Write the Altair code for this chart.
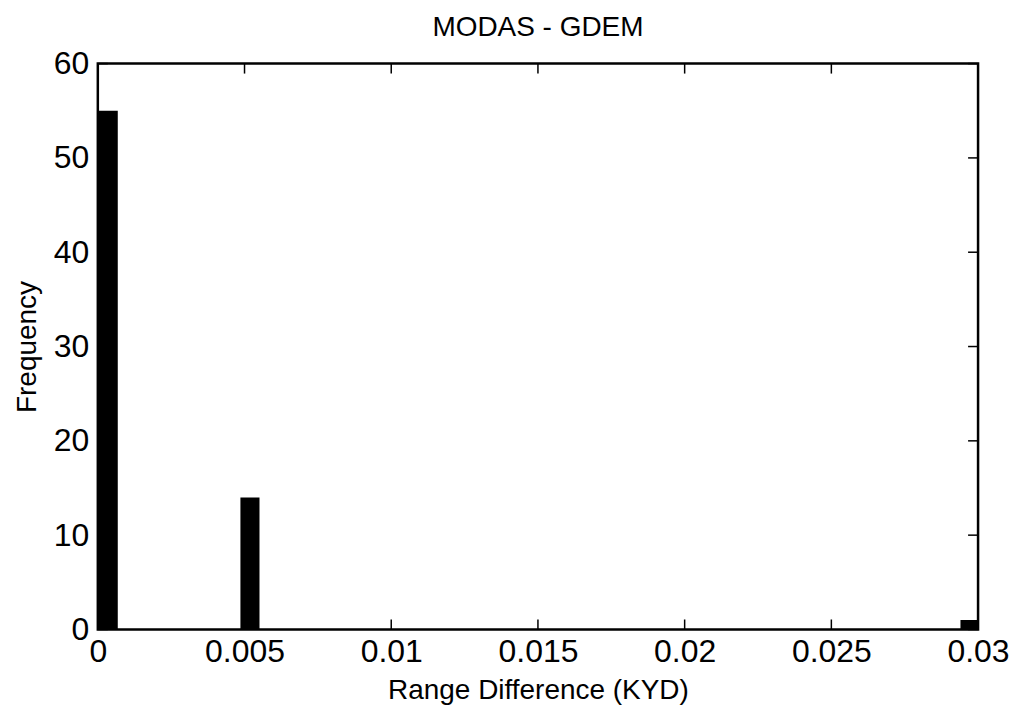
import altair as alt
import pandas as pd

# Histogram bars (bin edges) and counts
bar_start = [0.0, 0.00486, 0.0294]
bar_end = [0.00068, 0.00551, 0.0300]
counts = [55, 14, 1]

x_ticks = [0, 0.005, 0.01, 0.015, 0.02, 0.025, 0.03]
y_ticks = [0, 10, 20, 30, 40, 50, 60]

W, H = 882, 567
FONT = "Liberation Sans"
FS = 28
LFS = 32

bars_df = pd.DataFrame({"x0": bar_start, "x1": bar_end, "n": counts})
xt_df = pd.DataFrame({"t": x_ticks})
yt_df = pd.DataFrame({"t": y_ticks})

xscale = alt.Scale(domain=[0, 0.03], nice=False, zero=False)
yscale = alt.Scale(domain=[0, 60], nice=False)

x_axis = alt.Axis(values=x_ticks, title="Range Difference (KYD)",
                  labelExpr="'' + datum.value", ticks=False, labelFlush=False,
                  labelPadding=7, titlePadding=9, grid=False, domain=False)
y_axis = alt.Axis(values=y_ticks, title="Frequency", ticks=False, labelFlush=False,
                  labelPadding=9, titlePadding=12, grid=False, domain=False)

bars = alt.Chart(bars_df).mark_rect(color="black", clip=True).encode(
    x=alt.X("x0:Q", scale=xscale, axis=x_axis),
    x2="x1:Q",
    y=alt.Y("n:Q", scale=yscale, axis=y_axis),
    y2=alt.datum(0),
)

tick_len = 10
bottom_ticks = alt.Chart(xt_df).mark_rule(color="black", strokeWidth=1.5).encode(
    x=alt.X("t:Q", scale=xscale, axis=x_axis), y=alt.value(H), y2=alt.value(H - tick_len))
top_ticks = alt.Chart(xt_df).mark_rule(color="black", strokeWidth=1.5).encode(
    x=alt.X("t:Q", scale=xscale, axis=x_axis), y=alt.value(0), y2=alt.value(tick_len))
left_ticks = alt.Chart(yt_df).mark_rule(color="black", strokeWidth=1.5).encode(
    y=alt.Y("t:Q", scale=yscale, axis=y_axis), x=alt.value(0), x2=alt.value(tick_len))
right_ticks = alt.Chart(yt_df).mark_rule(color="black", strokeWidth=1.5).encode(
    y=alt.Y("t:Q", scale=yscale, axis=y_axis), x=alt.value(W), x2=alt.value(W - tick_len))

chart = alt.layer(bars, bottom_ticks, top_ticks, left_ticks, right_ticks).properties(
    width=W, height=H,
    title=alt.TitleParams("MODAS - GDEM", font=FONT, fontSize=FS,
                          fontWeight="normal", color="black", offset=6),
    autosize=alt.AutoSizeParams(type="none"),
    padding={"left": 90, "top": 55, "right": 31, "bottom": 85},
    background="white",
).configure_view(
    stroke="black", strokeWidth=2.5
).configure_axis(
    labelFont=FONT, titleFont=FONT, labelFontSize=LFS, titleFontSize=FS,
    labelColor="black", titleColor="black", titleFontWeight="normal",
)

chart.save("out.html", embed_options={"renderer": "svg", "actions": False})
